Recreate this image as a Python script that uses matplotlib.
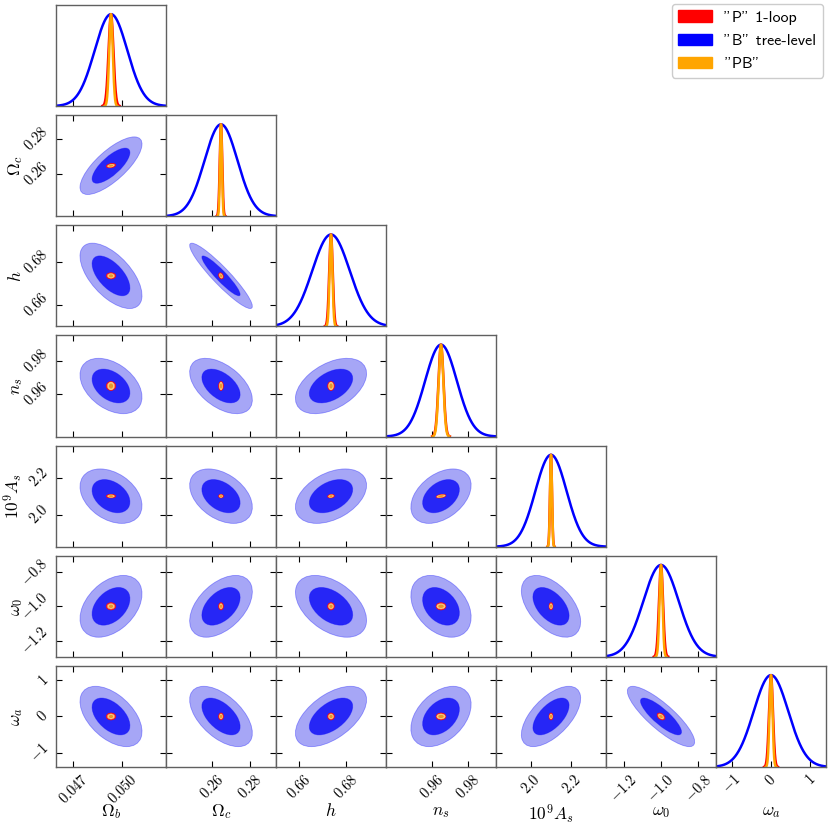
import numpy as np
import matplotlib
matplotlib.use("Agg")
import matplotlib.pyplot as plt
from matplotlib.patches import Ellipse, Patch
from matplotlib.gridspec import GridSpec

plt.rcParams['mathtext.fontset'] = 'cm'

# parameters and fiducial values
labels = [r'$\Omega_b$', r'$\Omega_c$', r'$h$', r'$n_s$', r'$10^9A_s$', r'$\omega_0$', r'$\omega_a$']
fiducial = [0.0493, 0.2645, 0.6736, 0.9649, 2.10, -1.0, 0.0]

# marginal errors for each forecast
sigma_B = [0.00100, 0.0087, 0.0080, 0.0088, 0.078, 0.095, 0.44]
sigma_P = [0.00015, 0.00065, 0.00075, 0.00140, 0.0050, 0.0110, 0.050]
sigma_PB = [0.00011, 0.00052, 0.00060, 0.0013, 0.0046, 0.0082, 0.038]

# correlation coefficients, lower triangle (row i, col j < i)
rho_B = [
    [],
    [0.75],
    [-0.60, -0.93],
    [-0.40, -0.50, 0.45],
    [-0.35, -0.40, 0.40, 0.40],
    [0.40, 0.47, -0.45, -0.35, -0.50],
    [-0.50, -0.55, 0.55, 0.40, 0.60, -0.84],
]
rho_P = [
    [],
    [0.30],
    [0.0, -0.30],
    [0.0, 0.0, 0.0],
    [0.0, 0.0, 0.20, 0.40],
    [0.0, 0.0, 0.0, 0.0, 0.0],
    [0.0, 0.0, 0.0, 0.0, 0.0, -0.40],
]

# axis ranges and ticks
ranges = [0.00674, 0.058, 0.047, 0.061, 0.55, 0.59, 2.8]
ticks = [[0.047, 0.050], [0.26, 0.28], [0.66, 0.68], [0.96, 0.98],
         [2.0, 2.2], [-1.2, -1.0, -0.8], [-1, 0, 1]]
tick_text = [['0.047', '0.050'], ['0.26', '0.28'], ['0.66', '0.68'], ['0.96', '0.98'],
             ['2.0', '2.2'], ['-1.2', '-1.0', '-0.8'], ['-1', '0', '1']]

legend_names = ['"P" 1-loop', '"B" tree-level', '"PB"']
colors = ['#ff0000', '#0000ff', '#ffa500']

# contour scale (outer, inner), inner/outer = sqrt(2.30/6.17)
levels = [1.9, 1.16]


def cov2(sig, rho, i, j):
    r = rho[i][j]
    return np.array([[sig[j] ** 2, r * sig[i] * sig[j]],
                     [r * sig[i] * sig[j], sig[i] ** 2]])


def add_ellipses(ax, c, mean, fills, edge, lw):
    vals, vecs = np.linalg.eigh(c)
    ang = np.degrees(np.arctan2(vecs[1, 1], vecs[0, 1]))
    for k, fc in zip(levels, fills):
        e = Ellipse(mean, 2 * k * np.sqrt(vals[1]), 2 * k * np.sqrt(vals[0]), angle=ang,
                    facecolor=fc, edgecolor=edge, lw=lw)
        ax.add_patch(e)


n = len(labels)
fig = plt.figure(figsize=(8.3, 8.3), dpi=100)
gs = GridSpec(n, n, figure=fig, left=56 / 830, right=826 / 830, top=1 - 5 / 830,
              bottom=1 - 767 / 830, wspace=0, hspace=0.09)

lims = [(f - r / 2, f + r / 2) for f, r in zip(fiducial, ranges)]

for i in range(n):
    for j in range(i + 1):
        ax = fig.add_subplot(gs[i, j])
        for s in ax.spines.values():
            s.set_color('#606060')
            s.set_linewidth(1.0)
        ax.set_xlim(lims[j])
        ax.set_xticks(ticks[j])
        if i == j:
            x = np.linspace(lims[j][0], lims[j][1], 600)
            y = np.exp(-0.5 * ((x - fiducial[j]) / sigma_B[j]) ** 2)
            ax.plot(x, y, color=colors[1], lw=1.8)
            for sig, col in zip([sigma_P, sigma_PB], [colors[0], colors[2]]):
                xs = np.linspace(fiducial[j] - 3.5 * sig[j], fiducial[j] + 3.5 * sig[j], 200)
                ys = np.exp(-0.5 * ((xs - fiducial[j]) / sig[j]) ** 2)
                ax.plot(xs, ys, color=col, lw=1.8)
            ax.set_ylim(0, 1.1)
            ax.set_yticks([])
            ax.tick_params(axis='x', direction='in', length=4, width=0.8, top=False)
        else:
            mean = (fiducial[j], fiducial[i])
            add_ellipses(ax, cov2(sigma_B, rho_B, i, j), mean,
                         ['#a6a6f6', '#2626f6'], (0, 0, 1, 0.35), 0.6)
            add_ellipses(ax, cov2(sigma_P, rho_P, i, j), mean,
                         ['#f46a5a', '#ee4433'], '#ff0000', 0.5)
            add_ellipses(ax, cov2(sigma_PB, rho_P, i, j), mean,
                         ['#f8c97c', '#e6992a'], 'none', 0)
            ax.set_ylim(lims[i])
            ax.set_yticks(ticks[i])
            ax.tick_params(direction='in', length=4, width=0.8, top=True, right=True)

        if i == n - 1:
            ax.set_xticklabels(['$' + t + '$' for t in tick_text[j]], rotation=45,
                               fontsize=10.5)
            ax.set_xlabel(labels[j], fontsize=12.5)
            ax.xaxis.set_label_coords(0.5, -0.35)
        else:
            ax.set_xticklabels([])
        if j == 0 and i > 0:
            ax.set_yticklabels(['$' + t + '$' for t in tick_text[i]], rotation=45,
                               fontsize=10.5, va='center')
            ax.set_ylabel(labels[i], fontsize=12.5)
            ax.yaxis.set_label_coords(-0.28, 0.5)
        elif i != j:
            ax.set_yticklabels([])

handles = [Patch(facecolor=c, edgecolor=c) for c in colors]
fig.legend(handles, legend_names, loc='upper right', bbox_to_anchor=(823 / 830, 1 - 4 / 830),
           prop={'family': 'cmss10', 'size': 11.5}, handlelength=2.1, handleheight=0.75,
           labelspacing=0.55, fancybox=True, edgecolor='#cccccc', framealpha=1.0,
           borderaxespad=0.0)

fig.savefig('out.png', dpi=100)
